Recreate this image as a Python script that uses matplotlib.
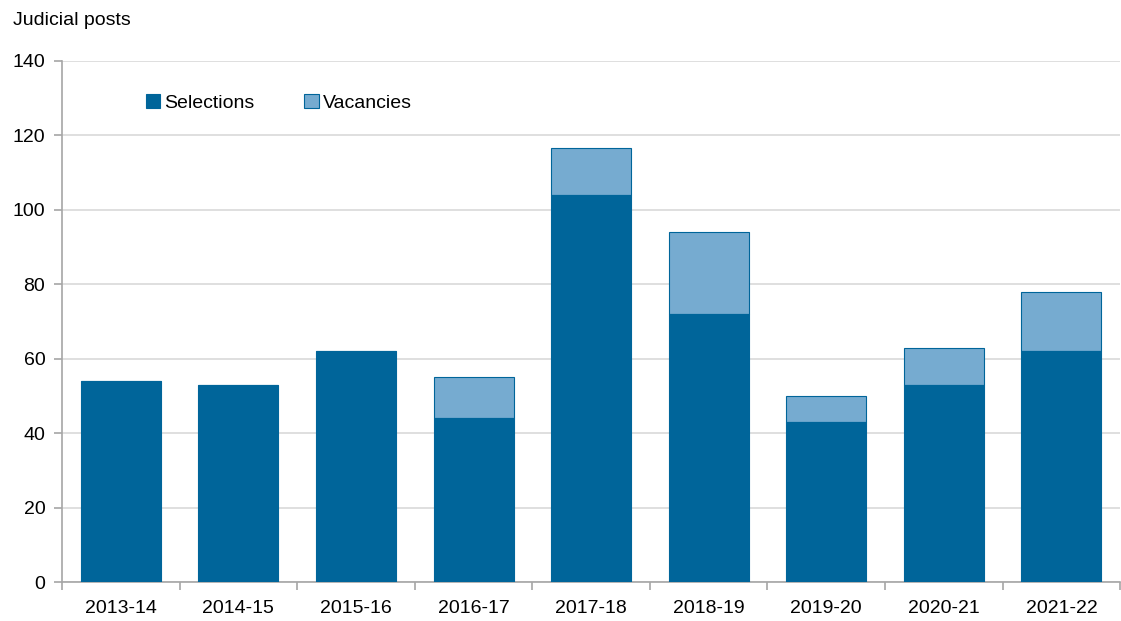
import numpy as np
import matplotlib.pyplot as plt

# judicial selections and vacancies by year
years = ['2013-14', '2014-15', '2015-16', '2016-17', '2017-18',
         '2018-19', '2019-20', '2020-21', '2021-22']
selections = [54, 53, 62, 44, 104, 72, 43, 53, 62]
totals = [54, 53, 62, 55, 116.5, 94, 50, 63, 78]
vacancies = [t - s for t, s in zip(totals, selections)]

dark = '#00659a'
light = '#76abd0'
axis_grey = '#a6a6a6'

plt.rcParams['font.family'] = ['Liberation Sans', 'DejaVu Sans']

fig = plt.figure(figsize=(11.21, 6.21), dpi=100)
ax = fig.add_axes([0.0553, 0.0628, 0.944, 0.839])

x = np.arange(len(years))
ax.bar(x, selections, width=0.68, color=dark, edgecolor=dark, linewidth=0.8,
       label='Selections', zorder=3)
ax.bar(x, vacancies, width=0.68, bottom=selections, color=light,
       edgecolor=dark, linewidth=0.8, label='Vacancies', zorder=2)

ax.set_xlim(-0.5, len(years) - 0.5)
ax.set_ylim(0, 140)
ax.set_yticks(range(0, 141, 20))
ax.yaxis.grid(True, color='#d9d9d9', linewidth=1.2, zorder=0)
ax.set_axisbelow(True)

# category labels centred, ticks on the boundaries
ax.set_xticks(x)
ax.set_xticklabels(years, fontsize=14)
ax.tick_params(axis='x', length=0, pad=13)
ax.set_xticks(np.arange(-0.5, len(years)), minor=True)
ax.tick_params(axis='x', which='minor', length=6, color=axis_grey, width=1.2)
ax.tick_params(axis='y', length=6, color=axis_grey, width=1.2, labelsize=14, pad=6)

for side in ['top', 'right']:
    ax.spines[side].set_visible(False)
for side in ['left', 'bottom']:
    ax.spines[side].set_color(axis_grey)
    ax.spines[side].set_linewidth(1.2)

ax.text(-0.0465, 1.078, 'Judicial posts', transform=ax.transAxes, fontsize=14,
        ha='left', va='center')

leg = ax.legend(loc='upper left', bbox_to_anchor=(0.0625, 0.97), ncol=2,
                frameon=False, fontsize=14, handlelength=0.75, handleheight=0.75,
                handletextpad=0.2, columnspacing=2.55)

fig.savefig('out.png', dpi=100)
